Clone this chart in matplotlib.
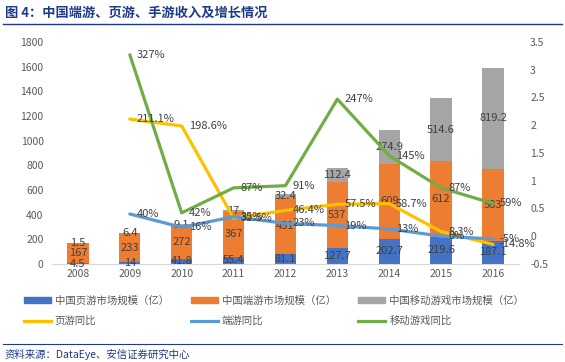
import matplotlib.pyplot as plt
import numpy as np
from matplotlib.lines import Line2D
from matplotlib.patches import Patch

plt.rcParams['font.family'] = ['Noto Sans CJK SC', 'DejaVu Sans']

years = ["2008", "2009", "2010", "2011", "2012", "2013", "2014", "2015", "2016"]
web_size = [4.5, 14, 41.8, 55.4, 81.1, 127.7, 202.7, 219.6, 187.1]
client_size = [167, 233, 272, 367, 451, 537, 609, 612, 583]
mobile_size = [1.5, 6.4, 9.1, 17, 32.4, 112.4, 274.9, 514.6, 819.2]

web_yoy = [np.nan, 2.111, 1.986, 0.325, 0.464, 0.575, 0.587, 0.083, -0.148]
web_yoy_lbl = ["", "211.1%", "198.6%", "32.5%", "46.4%", "57.5%", "58.7%", "8.3%", "-14.8%"]
client_yoy = [np.nan, 0.40, 0.16, 0.35, 0.23, 0.19, 0.13, 0.0, -0.05]
client_yoy_lbl = ["", "40%", "16%", "35%", "23%", "19%", "13%", "0%", "-5%"]
mobile_yoy = [np.nan, 3.27, 0.42, 0.87, 0.91, 2.47, 1.45, 0.87, 0.59]
mobile_yoy_lbl = ["", "327%", "42%", "87%", "91%", "247%", "145%", "87%", "59%"]

c_web, c_client, c_mobile = "#4472C4", "#ED7D31", "#A5A5A5"
c_wy, c_cy, c_my = "#FFC000", "#5B9BD5", "#70AD47"
txt = "#404040"
axis_txt = "#595959"

fig = plt.figure(figsize=(5.65, 3.62), dpi=100)
ax = fig.add_axes([0.092, 0.271, 0.8265, 0.613])
ax2 = ax.twinx()

x = np.arange(len(years))
w = 0.41
web = np.array(web_size)
cli = np.array(client_size)
mob = np.array(mobile_size)
ax.bar(x, web, w, color=c_web, zorder=2)
ax.bar(x, cli, w, bottom=web, color=c_client, zorder=2)
ax.bar(x, mob, w, bottom=web + cli, color=c_mobile, zorder=2)

lbl_kw = dict(ha="center", va="center", fontsize=8, color=txt, zorder=5)
for i in range(len(x)):
    ax.text(x[i], web[i] / 2, f"{web_size[i]:g}", **lbl_kw)
    ax.text(x[i], web[i] + cli[i] / 2, f"{client_size[i]:g}", **lbl_kw)
    ax.text(x[i], web[i] + cli[i] + mob[i] / 2, f"{mobile_size[i]:g}", **lbl_kw)

ax.set_xlim(-0.5, len(x) - 0.5)
ax.set_ylim(0, 1800)
ax.set_yticks(np.arange(0, 1801, 200))
ax.set_xticks(x)
ax.set_xticklabels(years)

for series, labels, col in [(web_yoy, web_yoy_lbl, c_wy),
                            (client_yoy, client_yoy_lbl, c_cy),
                            (mobile_yoy, mobile_yoy_lbl, c_my)]:
    ax2.plot(x, series, color=col, linewidth=2.3, solid_capstyle="round", zorder=3)
    for i, (v, s) in enumerate(zip(series, labels)):
        if s:
            ax2.annotate(s, (x[i], v), xytext=(5, 0), textcoords="offset points",
                         ha="left", va="center", fontsize=8, color=txt, zorder=6)

ax2.set_ylim(-0.5, 3.5)
ax2.set_yticks(np.arange(-0.5, 3.51, 0.5))
ax2.set_yticklabels([f"{t:g}" for t in np.arange(-0.5, 3.51, 0.5)])

for a in (ax, ax2):
    for s in a.spines.values():
        s.set_visible(False)
    a.tick_params(length=0, labelsize=7.5, colors=axis_txt, pad=4)
ax.spines["bottom"].set_visible(True)
ax.spines["bottom"].set_color("#D9D9D9")
ax2.tick_params(axis="y", pad=8)
ax.tick_params(axis="y", pad=6)

handles = [Patch(color=c_web), Line2D([], [], color=c_wy, lw=2.3),
           Patch(color=c_client), Line2D([], [], color=c_cy, lw=2.3),
           Patch(color=c_mobile), Line2D([], [], color=c_my, lw=2.3)]
labels = ["中国页游市场规模（亿）", "页游同比",
          "中国端游市场规模（亿）", "端游同比",
          "中国移动游戏市场规模（亿）", "移动游戏同比"]
leg = fig.legend(handles, labels, ncol=3, loc="upper left", bbox_to_anchor=(0.025, 0.21),
                 frameon=False, fontsize=7.5, handlelength=2.6, handleheight=0.6,
                 columnspacing=2.1, labelspacing=1.0, handletextpad=0.4)
for t in leg.get_texts():
    t.set_color(axis_txt)

fig.text(0.008, 0.965, "图 4：中国端游、页游、手游收入及增长情况", fontsize=9.5,
         fontweight="bold", color="#1F3A8A", va="center", ha="left")
fig.add_artist(Line2D([0.005, 0.995], [0.935, 0.935], color="#1F3A8A", lw=1.0))
fig.add_artist(Line2D([0.005, 0.995], [0.050, 0.050], color="#1F3A8A", lw=0.8))
fig.text(0.008, 0.022, "资料来源：DataEye、安信证券研究中心", fontsize=7.5,
         color="#1F3A8A", style="italic", va="center", ha="left")

fig.savefig("out.png", dpi=100)
